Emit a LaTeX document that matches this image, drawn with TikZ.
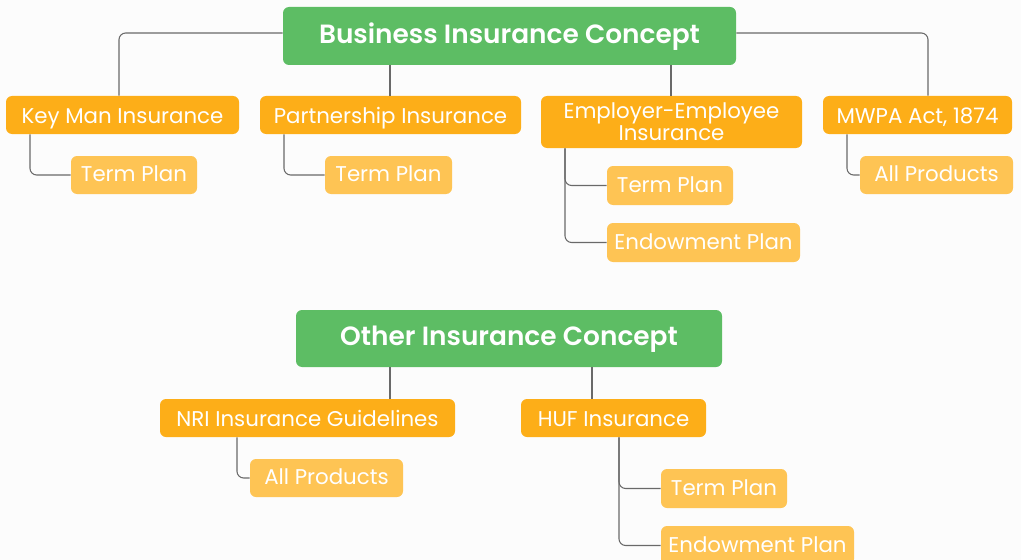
\documentclass[tikz,border=0pt]{standalone}
\usepackage{fontspec}
\setmainfont{Poppins}
\newfontfamily\titlefont{Poppins SemiBold}
\definecolor{bg}{RGB}{252,252,252}
\definecolor{gr}{RGB}{93,189,100}
\definecolor{org}{RGB}{253,174,24}
\definecolor{lor}{RGB}{254,196,84}
\definecolor{ln}{RGB}{105,105,105}
\tikzset{
  x=0.75pt,y=-0.75pt,
  boxbase/.style={rounded corners=4.5pt, inner sep=0pt, text=white, align=center},
  titlebox/.style={boxbase, fill=gr, font=\fontsize{19.8}{22}\selectfont\titlefont, text height=11pt, text depth=0pt},
  mainbox/.style={boxbase, fill=org, font=\fontsize{16}{15}\selectfont, text height=12.4pt, text depth=0pt},
  twobox/.style={boxbase, fill=org, font=\fontsize{16}{14.5}\selectfont},
  subbox/.style={boxbase, fill=lor, font=\fontsize{16}{16}\selectfont, text height=10pt, text depth=0pt},
  conn/.style={draw=ln, line width=0.8pt, rounded corners=5pt}
}
\newcommand\mybox[7]{%
  \node[#6, minimum width={(#4-#2)*0.75pt}, minimum height={(#5-#3)*0.75pt}]
    (#1) at ({(#2+#4)/2},{(#3+#5)/2}) {#7};}
\begin{document}
\begin{tikzpicture}
\fill[bg] (0,0) rectangle (1021,560);
\useasboundingbox (0,0) rectangle (1021,560);

% top group
\mybox{bic}{283}{7}{736}{65}{titlebox}{Business Insurance Concept}
\mybox{km}{6}{96}{239}{134}{mainbox}{Key Man Insurance}
\mybox{pi}{260}{96}{521}{134}{mainbox}{Partnership Insurance}
\mybox{ee}{541}{96}{802}{148}{twobox}{Employer-Employee\\Insurance}
\mybox{mw}{823}{96}{1012}{134}{mainbox}{MWPA Act, 1874}
\mybox{kmt}{71}{156}{197}{194}{subbox}{Term Plan}
\mybox{pit}{325}{156}{452}{194}{subbox}{Term Plan}
\mybox{eet}{607}{166}{733}{205}{subbox}{Term Plan}
\mybox{eee}{607}{223}{800}{262}{subbox}{Endowment Plan}
\mybox{mwa}{860}{156}{1013}{194}{subbox}{All Products}

% bottom group
\mybox{oic}{296}{310}{722}{367}{titlebox}{Other Insurance Concept}
\mybox{nri}{160}{399}{455}{437}{mainbox}{NRI Insurance Guidelines}
\mybox{huf}{521}{399}{706}{437}{mainbox}{HUF Insurance}
\mybox{nria}{250}{459}{403}{497}{subbox}{All Products}
\mybox{huft}{661}{469}{787}{508}{subbox}{Term Plan}
\mybox{hufe}{661}{526}{854}{565}{subbox}{Endowment Plan}

% connectors top
\draw[conn] (bic.west|-0,33) -| (km.north-|119,0);
\draw[conn] (bic.south-|390,0) -- (pi.north-|390,0);
\draw[conn] (bic.south-|671,0) -- (ee.north-|671,0);
\draw[conn] (bic.east|-0,33) -| (mw.north-|928,0);
\draw[conn] (km.south-|30,0) |- (kmt.west);
\draw[conn] (pi.south-|284,0) |- (pit.west);
\draw[conn] (ee.south-|565,0) |- (eet.west);
\draw[conn] (ee.south-|565,0) |- (eee.west);
\draw[conn] (mw.south-|847,0) |- (mwa.west);
% connectors bottom
\draw[conn] (oic.south-|390,0) -- (nri.north-|390,0);
\draw[conn] (oic.south-|592,0) -- (huf.north-|592,0);
\draw[conn] (nri.south-|237,0) |- (nria.west);
\draw[conn] (huf.south-|619,0) |- (huft.west);
\draw[conn] (huf.south-|619,0) |- (hufe.west);
\end{tikzpicture}
\end{document}
